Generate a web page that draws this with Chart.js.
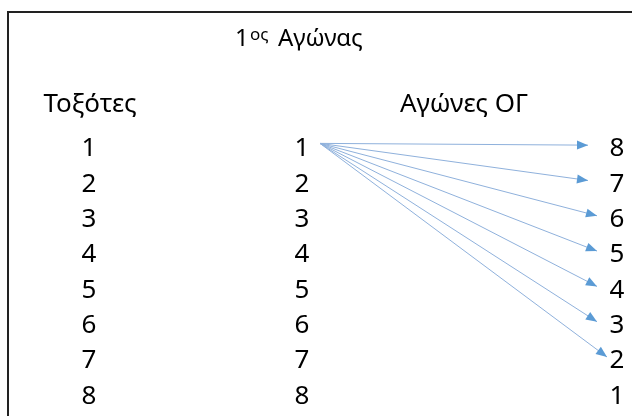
<!DOCTYPE html>
<html>
<head>
<meta charset="utf-8">
<script src="https://cdn.jsdelivr.net/npm/chart.js@4.4.1/dist/chart.umd.min.js"></script>
<style>
    body { margin: 0; background: #fff; }
</style>
</head>
<body>
<canvas id="matchChart" width="632" height="416"></canvas>
<script>
// columns of the diagram
const archers = [1, 2, 3, 4, 5, 6, 7, 8];
const slots = [1, 2, 3, 4, 5, 6, 7, 8];
const matches = [8, 7, 6, 5, 4, 3, 2, 1];
// archer 1 is sent to each of these matches
const arrowTargets = [8, 7, 6, 5, 4, 3, 2];
const arrowTipX = [588, 588, 597, 597, 597, 597, 607];

const titleText = '1';
const titleSup = 'ος';
const titleRest = 'Αγώνας';
const leftHeader = 'Τοξότες';
const rightHeader = 'Αγώνες ΟΓ';

// column / row positions in scale units
const colArchers = 89, colSlots = 302, colMatches = 617;
const arrowStartX = 320, arrowStartRow = 0.9;
const titleRow = -1.87, headerRow = -0.0;

const font = '"Noto Sans", sans-serif';

const datasets = arrowTargets.map(function (t, i) {
    let row = matches.indexOf(t) + 1;
    return {
        data: [{ x: arrowStartX, y: arrowStartRow }, { x: arrowTipX[i], y: row - 0.05 }],
        showLine: true,
        borderColor: '#8fb1dc',
        borderWidth: 1,
        pointRadius: 0
    };
});

const frame = {
    id: 'frame',
    beforeDraw: function (chart) {
        const ctx = chart.ctx;
        ctx.save();
        ctx.fillStyle = '#fff';
        ctx.fillRect(0, 0, chart.width, chart.height);
        ctx.strokeStyle = '#222';
        ctx.lineWidth = 2;
        ctx.beginPath();
        ctx.moveTo(8, chart.height);
        ctx.lineTo(8, 12);
        ctx.lineTo(chart.width, 12);
        ctx.stroke();
        ctx.restore();
    }
};

const arrowHeads = {
    id: 'arrowHeads',
    afterDatasetsDraw: function (chart) {
        const ctx = chart.ctx;
        ctx.save();
        ctx.fillStyle = '#5b9bd5';
        chart.data.datasets.forEach(function (ds, i) {
            const pts = chart.getDatasetMeta(i).data;
            const a = pts[0], b = pts[1];
            const ang = Math.atan2(b.y - a.y, b.x - a.x);
            const len = 11, half = 4.5;
            ctx.beginPath();
            ctx.moveTo(b.x, b.y);
            ctx.lineTo(b.x - len * Math.cos(ang) - half * Math.sin(ang), b.y - len * Math.sin(ang) + half * Math.cos(ang));
            ctx.lineTo(b.x - len * Math.cos(ang) + half * Math.sin(ang), b.y - len * Math.sin(ang) - half * Math.cos(ang));
            ctx.closePath();
            ctx.fill();
        });
        ctx.restore();
    }
};

const labels = {
    id: 'labels',
    afterDraw: function (chart) {
        const ctx = chart.ctx;
        const xs = chart.scales.x, ys = chart.scales.y;
        ctx.save();
        ctx.fillStyle = '#000';
        ctx.textBaseline = 'alphabetic';
        ctx.textAlign = 'center';
        ctx.font = '26px ' + font;

        // numbers sit with their baseline ~9.5px under the row centre
        const columns = [[colArchers, archers], [colSlots, slots], [colMatches, matches]];
        columns.forEach(function (c) {
            c[1].forEach(function (v, i) {
                ctx.fillText(String(v), xs.getPixelForValue(c[0]), ys.getPixelForValue(i + 1) + 9.5);
            });
        });

        const hy = ys.getPixelForValue(headerRow);
        ctx.fillText(leftHeader, xs.getPixelForValue(90), hy);
        ctx.fillText(rightHeader, xs.getPixelForValue(464), hy);

        // title with superscript
        ctx.textAlign = 'left';
        const ty = ys.getPixelForValue(titleRow);
        ctx.font = '24px ' + font;
        ctx.fillText(titleText, xs.getPixelForValue(235), ty);
        ctx.font = '17px ' + font;
        ctx.fillText(titleSup, xs.getPixelForValue(250), ty - 6);
        ctx.font = '24px ' + font;
        ctx.fillText(titleRest, xs.getPixelForValue(278), ty);
        ctx.restore();
    }
};

new Chart(document.getElementById('matchChart'), {
    type: 'scatter',
    data: { datasets: datasets },
    options: {
        responsive: false,
        animation: false,
        devicePixelRatio: 1,
        layout: { padding: 0 },
        plugins: { legend: { display: false }, tooltip: { enabled: false } },
        scales: {
            x: { type: 'linear', min: 0, max: 632, display: false },
            y: { type: 'linear', min: -3.16, max: 8.62, reverse: true, display: false }
        }
    },
    plugins: [frame, arrowHeads, labels]
});
</script>
</body>
</html>
